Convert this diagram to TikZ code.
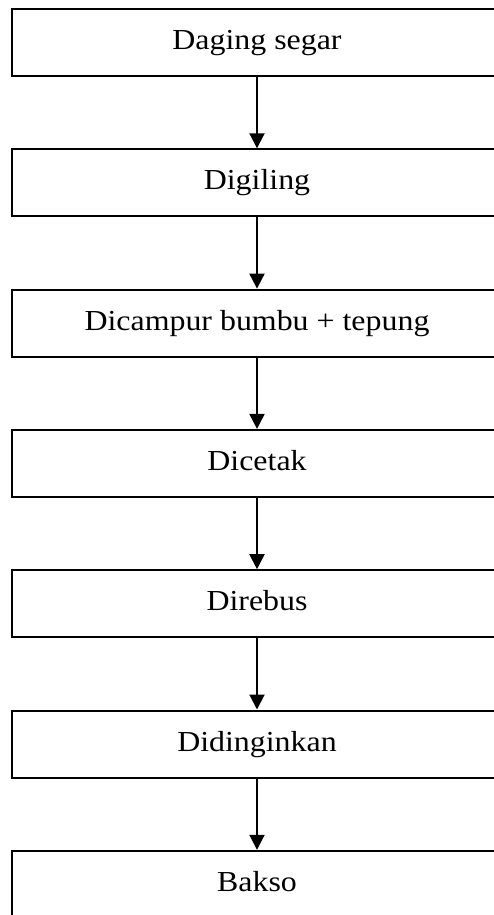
\documentclass[tikz,border=0pt]{standalone}
\usepackage{fontspec}
\setmainfont{Liberation Serif}[FakeStretch=1.1]
\usepackage{tikz}
\usetikzlibrary{arrows.meta, positioning}

\begin{document}
\begin{tikzpicture}[x=1pt, y=1pt,
    stepbox/.style={
        draw=black, line width=2pt, fill=white,
        minimum width=490pt, minimum height=67pt,
        font=\fontsize{29}{33}\selectfont, align=center, inner sep=0pt,
        text height=20pt, text depth=6pt
    },
    arrow/.style={-{Triangle[length=15pt, width=15pt]}, line width=2pt}
]
\useasboundingbox (0,0) rectangle (494,-915);

% Steps
\node[stepbox] (s1) at (257,-42.5) {Daging segar};
\node[stepbox] (s2) at (257,-182.8) {Digiling};
\node[stepbox] (s3) at (257,-323.1) {Dicampur bumbu + tepung};
\node[stepbox] (s4) at (257,-463.4) {Dicetak};
\node[stepbox] (s5) at (257,-603.7) {Direbus};
\node[stepbox] (s6) at (257,-744.0) {Didinginkan};
\node[stepbox] (s7) at (257,-884.3) {Bakso};

% Arrows between steps
\draw[arrow] (s1) -- (s2);
\draw[arrow] (s2) -- (s3);
\draw[arrow] (s3) -- (s4);
\draw[arrow] (s4) -- (s5);
\draw[arrow] (s5) -- (s6);
\draw[arrow] (s6) -- (s7);

\end{tikzpicture}
\end{document}
